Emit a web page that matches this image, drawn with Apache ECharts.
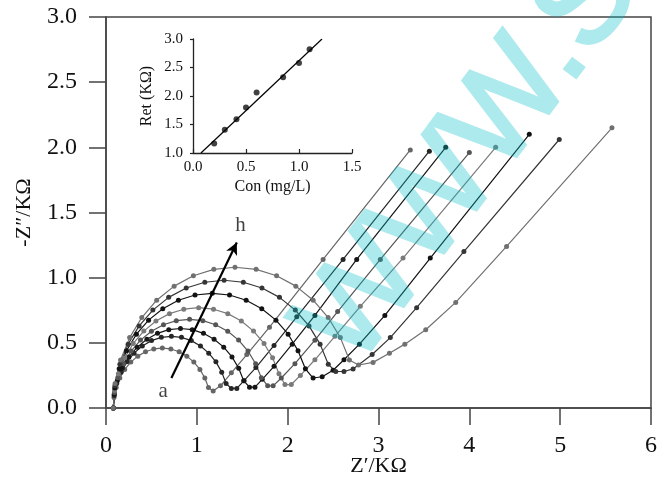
<!DOCTYPE html>
<html lang="en">
<head>
    <meta charset="UTF-8">
    <title>EIS Nyquist</title>
    <script src="https://cdn.jsdelivr.net/npm/echarts@6.0.0/dist/echarts.min.js"></script>
    <style>
        html, body { margin: 0; padding: 0; background: #fff; }
        /* 水印层 (zlevel 1) 半透明 */
        #main canvas:nth-of-type(2) { opacity: 0.32; }
    </style>
</head>
<body>
<div id="main" style="width: 657px;height:479px;"></div>

<script type="text/javascript">
    // 曲线数据 a..h  [Z', -Z'']
    var curveA = [[0.08,0],[0.088,0.08],[0.112,0.157],[0.152,0.23],[0.206,0.296],[0.273,0.352],[0.35,0.398],[0.435,0.432],[0.526,0.453],[0.62,0.46],[0.714,0.453],[0.805,0.432],[0.89,0.398],[0.967,0.352],[1.034,0.296],[1.088,0.23],[1.128,0.157],[1.18,0.13],[1.26,0.17],[1.38,0.27],[1.55,0.41],[1.8,0.62],[2.39,1.14],[3.35,1.98]];
    var curveB = [[0.08,0],[0.09,0.096],[0.118,0.188],[0.166,0.275],[0.23,0.354],[0.309,0.421],[0.4,0.476],[0.501,0.517],[0.609,0.542],[0.72,0.55],[0.831,0.542],[0.939,0.517],[1.04,0.476],[1.131,0.421],[1.21,0.354],[1.274,0.275],[1.322,0.188],[1.38,0.15],[1.44,0.15],[1.52,0.21],[1.65,0.31],[1.85,0.48],[2.1,0.7],[2.61,1.14],[3.56,1.97]];
    var curveC = [[0.08,0],[0.091,0.106],[0.124,0.209],[0.179,0.305],[0.253,0.392],[0.344,0.467],[0.45,0.528],[0.567,0.573],[0.691,0.601],[0.82,0.61],[0.949,0.601],[1.073,0.573],[1.19,0.528],[1.296,0.467],[1.387,0.392],[1.461,0.305],[1.516,0.209],[1.58,0.16],[1.64,0.16],[1.72,0.22],[1.85,0.32],[2.05,0.49],[2.3,0.71],[2.76,1.14],[3.74,2.0]];
    var curveD = [[0.08,0],[0.093,0.118],[0.13,0.233],[0.193,0.34],[0.277,0.437],[0.38,0.521],[0.5,0.589],[0.633,0.639],[0.774,0.67],[0.92,0.68],[1.066,0.67],[1.207,0.639],[1.34,0.589],[1.46,0.521],[1.563,0.437],[1.647,0.34],[1.71,0.233],[1.78,0.17],[1.84,0.17],[1.93,0.23],[2.08,0.34],[2.3,0.52],[2.55,0.74],[3.02,1.14],[4.0,1.96]];
    var curveE = [[0.08,0],[0.094,0.134],[0.136,0.263],[0.206,0.385],[0.3,0.495],[0.416,0.59],[0.55,0.667],[0.699,0.724],[0.856,0.758],[1.02,0.77],[1.184,0.758],[1.341,0.724],[1.49,0.667],[1.624,0.59],[1.74,0.495],[1.834,0.385],[1.904,0.263],[1.97,0.18],[2.04,0.18],[2.14,0.25],[2.3,0.37],[2.52,0.55],[2.8,0.78],[3.27,1.15],[4.29,2.0]];
    var curveF = [[0.08,0],[0.096,0.153],[0.145,0.301],[0.226,0.44],[0.335,0.566],[0.469,0.674],[0.625,0.762],[0.797,0.827],[0.98,0.867],[1.17,0.88],[1.36,0.867],[1.543,0.827],[1.715,0.762],[1.871,0.674],[2.005,0.566],[2.114,0.44],[2.195,0.301],[2.28,0.23],[2.38,0.24],[2.5,0.29],[2.62,0.37],[2.79,0.49],[3.07,0.71],[3.57,1.15],[4.66,2.1]];
    var curveG = [[0.08,0],[0.098,0.171],[0.153,0.335],[0.243,0.49],[0.365,0.63],[0.516,0.751],[0.69,0.849],[0.883,0.921],[1.088,0.965],[1.3,0.98],[1.512,0.965],[1.717,0.921],[1.91,0.849],[2.084,0.751],[2.235,0.63],[2.357,0.49],[2.447,0.335],[2.53,0.28],[2.62,0.28],[2.72,0.3],[2.93,0.41],[3.13,0.54],[3.42,0.77],[3.94,1.2],[4.99,2.06]];
    var curveH = [[0.08,0],[0.1,0.188],[0.16,0.369],[0.26,0.54],[0.394,0.694],[0.558,0.827],[0.75,0.935],[0.962,1.015],[1.187,1.064],[1.42,1.08],[1.653,1.064],[1.878,1.015],[2.09,0.935],[2.281,0.827],[2.446,0.694],[2.58,0.54],[2.68,0.369],[2.78,0.33],[2.94,0.35],[3.12,0.42],[3.29,0.49],[3.52,0.6],[3.85,0.81],[4.41,1.24],[5.57,2.15]];

    var curveNames = ['a','b','c','d','e','f','g','h'];
    var curveColors = ['#666666','#262626','#161616','#555555','#7a7a7a','#121212','#353535','#707070'];

    // 小图: 浓度 vs Ret
    var conc = [0.2, 0.3, 0.41, 0.5, 0.6, 0.85, 1.0, 1.1];
    var ret = [1.165, 1.41, 1.59, 1.8, 2.06, 2.33, 2.58, 2.82];
    var fitX = [0.075, 1.217];
    var fitY = [1.0, 3.0];

    // 箭头 a -> h
    var arrowFrom = [0.72, 0.23];
    var arrowTo = [1.44, 1.27];
    var labelA = [0.63, 0.13];
    var labelH = [1.48, 1.40];

    var serif = 'Liberation Serif';

    function main() {
        var myChart = echarts.init(document.getElementById('main'));
        var curves = [curveA, curveB, curveC, curveD, curveE, curveF, curveG, curveH];

        var series = [];
        for (var i = 0; i < curves.length; i++) {
            series.push({
                name: curveNames[i],
                type: 'line',
                data: curves[i],
                xAxisIndex: 0,
                yAxisIndex: 0,
                symbol: 'circle',
                symbolSize: 5,
                showAllSymbol: true,
                lineStyle: {color: curveColors[i], width: 1.2},
                itemStyle: {color: curveColors[i]},
                silent: true,
                animation: false
            });
        }

        // 箭头与 a/h 标记
        series.push({
            type: 'scatter',
            xAxisIndex: 0,
            yAxisIndex: 0,
            symbolSize: 0,
            data: [
                {value: labelA, name: 'a'},
                {value: labelH, name: 'h'}
            ],
            label: {
                show: true,
                position: 'inside',
                formatter: '{b}',
                fontFamily: serif,
                fontSize: 21,
                color: '#111'
            },
            markLine: {
                silent: true,
                symbol: ['none', 'arrow'],
                symbolSize: [9, 12],
                lineStyle: {color: '#000', width: 2.2, type: 'solid'},
                label: {show: false},
                data: [[{coord: arrowFrom}, {coord: arrowTo}]]
            },
            animation: false
        });

        // 小图
        series.push({
            type: 'line',
            xAxisIndex: 1,
            yAxisIndex: 1,
            data: fitX.map(function (x, k) { return [x, fitY[k]]; }),
            symbol: 'none',
            lineStyle: {color: '#000', width: 1.2},
            animation: false
        });
        series.push({
            type: 'scatter',
            xAxisIndex: 1,
            yAxisIndex: 1,
            data: conc.map(function (x, k) { return [x, ret[k]]; }),
            symbolSize: 6,
            itemStyle: {color: '#111'},
            animation: false
        });

        var axisCol = '#444';
        var option = {
            backgroundColor: '#fff',
            animation: false,
            grid: [
                {left: 106, right: 6, top: 17, bottom: 71, show: true, borderColor: axisCol, borderWidth: 1.5, backgroundColor: 'transparent', containLabel: false, outerBoundsMode: 'none'},
                {left: 193, top: 39, width: 159, height: 114, containLabel: false, outerBoundsMode: 'none'}
            ],
            xAxis: [
                {
                    gridIndex: 0, type: 'value', min: 0, max: 6, interval: 1,
                    name: 'Z\u2032/K\u03A9', nameLocation: 'middle', nameGap: 47, nameMoveOverlap: false,
                    nameTextStyle: {fontFamily: serif, fontSize: 22, color: '#111'},
                    axisLine: {show: true, lineStyle: {color: axisCol, width: 1.5}},
                    axisTick: {show: true, inside: false, length: 17, lineStyle: {color: axisCol, width: 1.5}},
                    axisLabel: {margin: 26, fontFamily: serif, fontSize: 24, color: '#111', showMinLabel: true, showMaxLabel: true, hideOverlap: false},
                    splitLine: {show: false}
                },
                {
                    gridIndex: 1, type: 'value', min: 0, max: 1.5, interval: 0.5,
                    name: 'Con (mg/L)', nameLocation: 'middle', nameGap: 26, nameMoveOverlap: false,
                    nameTextStyle: {fontFamily: serif, fontSize: 16, color: '#111'},
                    axisLine: {show: true, lineStyle: {color: '#222', width: 1.3}},
                    axisTick: {show: true, inside: true, length: 4, lineStyle: {color: '#222', width: 1.2}},
                    axisLabel: {margin: 7, fontFamily: serif, fontSize: 15, color: '#111', formatter: function (v) { return v.toFixed(1); }, showMinLabel: true, showMaxLabel: true, hideOverlap: false},
                    splitLine: {show: false}
                }
            ],
            yAxis: [
                {
                    gridIndex: 0, type: 'value', min: 0, max: 3, interval: 0.5,
                    name: '-Z\u2033/K\u03A9', nameLocation: 'middle', nameGap: 71, nameRotate: 90, nameMoveOverlap: false,
                    nameTextStyle: {fontFamily: serif, fontSize: 22, color: '#111'},
                    axisLine: {show: true, lineStyle: {color: axisCol, width: 1.5}},
                    axisTick: {show: true, inside: false, length: 17, lineStyle: {color: axisCol, width: 1.5}},
                    axisLabel: {margin: 29, fontFamily: serif, fontSize: 24, color: '#111', formatter: function (v) { return v.toFixed(1); }, showMinLabel: true, showMaxLabel: true, hideOverlap: false},
                    splitLine: {show: false}
                },
                {
                    gridIndex: 1, type: 'value', min: 1, max: 3, interval: 0.5,
                    name: 'Ret (K\u03A9)', nameLocation: 'middle', nameGap: 38, nameRotate: 90, nameMoveOverlap: false,
                    nameTextStyle: {fontFamily: serif, fontSize: 16, color: '#111'},
                    axisLine: {show: true, lineStyle: {color: '#222', width: 1.3}},
                    axisTick: {show: true, inside: false, length: 3, lineStyle: {color: '#222', width: 1.2}},
                    axisLabel: {margin: 10, fontFamily: serif, fontSize: 15, color: '#111', formatter: function (v) { return v.toFixed(1); }, showMinLabel: true, showMaxLabel: true, hideOverlap: false},
                    splitLine: {show: false}
                }
            ],
            graphic: [
                {
                    type: 'text',
                    x: 327,
                    y: 349,
                    rotation: 53 * Math.PI / 180,
                    zlevel: 1,
                    z: 100,
                    silent: true,
                    style: {
                        text: 'WWW.S',
                        fill: 'rgb(0,190,200)',
                        stroke: 'rgb(0,190,200)',
                        lineWidth: 3.5,
                        font: '128px "Liberation Sans"',
                        textAlign: 'left',
                        textVerticalAlign: 'middle'
                    }
                }
            ],
            series: series
        };

        myChart.setOption(option);
    }

    main();
</script>
</body>
</html>
